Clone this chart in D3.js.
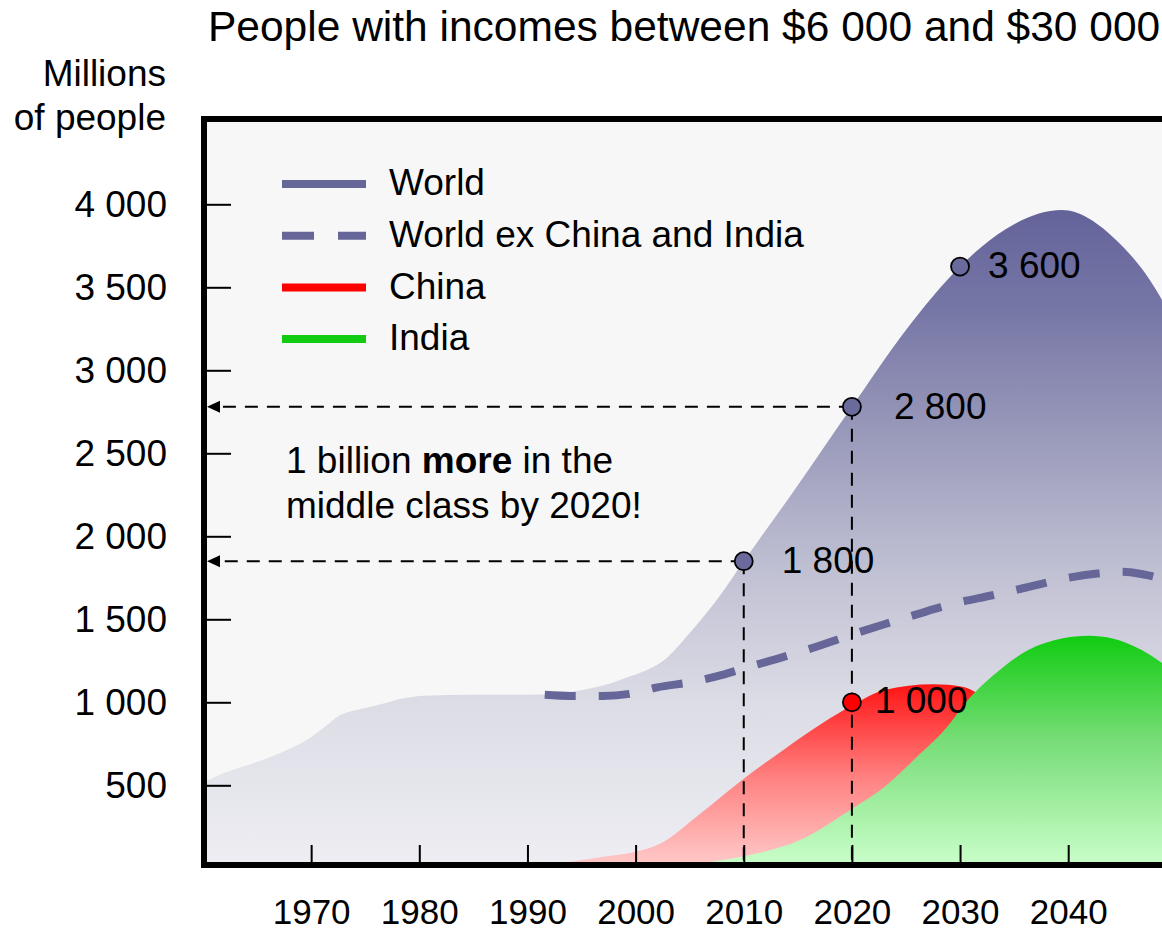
<!DOCTYPE html>
<html>
<head>
<meta charset="utf-8">
<script src="https://cdn.jsdelivr.net/npm/d3@7"></script>
<style>
  html, body { margin: 0; padding: 0; background: #ffffff; }
  svg { display: block; }
  text { font-family: "Liberation Sans", Arial, Helvetica, sans-serif; fill: #000; }
</style>
</head>
<body>
<svg id="chart" width="1162" height="931"></svg>
<script>
// ---------------- data ----------------
const xTickYears = [1970, 1980, 1990, 2000, 2010, 2020, 2030, 2040];
const yTickValues = [500, 1000, 1500, 2000, 2500, 3000, 3500, 4000];

// World (area), millions of people
const worldYears  = [1960, 1962, 1965, 1968, 1969.6, 1971.1, 1972.7, 1974.2, 1976, 1978.8, 1980.4, 1985, 1990, 1995, 1999, 2003, 2005, 2007.5, 2010, 2015, 2020, 2025, 2030, 2032, 2035, 2039.4, 2044.5, 2048.7, 2050];
const worldValues = [515, 575, 640, 720, 773, 843, 923, 953, 980, 1027, 1040, 1045, 1045, 1073, 1145, 1275, 1418, 1617, 1850, 2307, 2780, 3243, 3625, 3745, 3880, 3965, 3780, 3420, 3250];

// World ex China and India (dashed line)
const exYears  = [1991.6, 1994, 1997, 2000, 2002, 2005, 2008, 2010, 2013, 2016, 2020, 2023, 2026, 2029.5, 2033, 2036, 2040, 2043, 2045, 2047, 2050];
const exValues = [1045, 1038, 1038, 1057, 1090, 1120, 1165, 1205, 1260, 1320, 1408, 1470, 1530, 1596, 1645, 1690, 1750, 1778, 1787, 1770, 1720];

// China (area)
const chinaYears  = [1990, 1993, 1997, 2000, 2002.3, 2006, 2010, 2013.6, 2017.3, 2020, 2023, 2027.5, 2030.2, 2032, 2036, 2040, 2050];
const chinaValues = [0, 30, 70, 100, 150, 330, 540, 710, 875, 980, 1074, 1108, 1094, 1040, 850, 650, 300];

// India (area)
const indiaYears  = [2000, 2004, 2007, 2010.6, 2015.2, 2019.8, 2023, 2026, 2029.1, 2030.2, 2033.3, 2036.3, 2039.4, 2041.9, 2044.1, 2046.8, 2048.7, 2050];
const indiaValues = [0, 15, 40, 80, 170, 350, 490, 670, 875, 973, 1175, 1315, 1385, 1401, 1385, 1315, 1235, 1170];

// highlighted points
const worldPointYears  = [2010, 2020, 2030];
const worldPointValues = [1850, 2780, 3625];
const worldPointLabels = ["1 800", "2 800", "3 600"];
const chinaPointYears  = [2020];
const chinaPointValues = [1000];
const chinaPointLabels = ["1 000"];

const legendLabels = ["World", "World ex China and India", "China", "India"];
const titleText = "People with incomes between $6 000 and $30 000";
const yTitleLines = ["Millions", "of people"];

// ---------------- layout ----------------
const svg = d3.select("#chart");
const FONT = 37;
const plotLeft = 204, plotTop = 119, plotBottom = 865, plotRight = 1170;

const x = d3.scaleLinear().domain([1960, 2050]).range([203, 203 + 90 * 10.815]);
const y = d3.scaleLinear().domain([0, 4000]).range([868.3, 204.3]);

const fmt = d3.formatLocale({decimal: ".", thousands: " ", grouping: [3], currency: ["$", ""]}).format(",");

const zip = (a, b) => a.map((v, i) => [v, b[i]]);
const world = zip(worldYears, worldValues);
const exCI  = zip(exYears, exValues);
const china = zip(chinaYears, chinaValues);
const india = zip(indiaYears, indiaValues);

const defs = svg.append("defs");
defs.append("clipPath").attr("id", "plotClip")
  .append("rect").attr("x", plotLeft).attr("y", plotTop)
  .attr("width", plotRight - plotLeft).attr("height", plotBottom - plotTop);

const gWorld = defs.append("linearGradient").attr("id", "gWorld")
  .attr("gradientUnits", "userSpaceOnUse")
  .attr("x1", 0).attr("x2", 0).attr("y1", y(4000)).attr("y2", y(0));
[[0, "#62629a"], [0.15, "#7575a5"], [0.35, "#9a9abb"], [0.55, "#c0c0d3"], [0.75, "#dcdce6"], [1, "#eeeef3"]]
  .forEach(s => gWorld.append("stop").attr("offset", s[0]).attr("stop-color", s[1]));

const gChina = defs.append("linearGradient").attr("id", "gChina")
  .attr("x1", 0).attr("x2", 0).attr("y1", 0).attr("y2", 1);
[[0, "#ff1414"], [0.5, "#ff8080"], [1, "#ffcccc"]]
  .forEach(s => gChina.append("stop").attr("offset", s[0]).attr("stop-color", s[1]));

const gIndia = defs.append("linearGradient").attr("id", "gIndia")
  .attr("x1", 0).attr("x2", 0).attr("y1", 0).attr("y2", 1);
[[0, "#11cc11"], [0.45, "#77dd77"], [1, "#ccffcc"]]
  .forEach(s => gIndia.append("stop").attr("offset", s[0]).attr("stop-color", s[1]));

// background
svg.append("rect").attr("x", plotLeft).attr("y", plotTop)
  .attr("width", plotRight - plotLeft).attr("height", plotBottom - plotTop)
  .attr("fill", "#f7f7f7");

const plot = svg.append("g").attr("clip-path", "url(#plotClip)");

const area = d3.area().x(d => x(d[0])).y0(y(0)).y1(d => y(d[1])).curve(d3.curveMonotoneX);
const line = d3.line().x(d => x(d[0])).y(d => y(d[1])).curve(d3.curveMonotoneX);

plot.append("path").datum(world).attr("d", area).attr("fill", "url(#gWorld)");
plot.append("path").datum(china).attr("d", area).attr("fill", "url(#gChina)");
plot.append("path").datum(india).attr("d", area).attr("fill", "url(#gIndia)");
plot.append("path").datum(exCI).attr("d", line)
  .attr("fill", "none").attr("stroke", "#666699").attr("stroke-width", 8)
  .attr("stroke-dasharray", "31,23");

// guide lines
const guides = svg.append("g").attr("stroke", "#000").attr("stroke-width", 2)
  .attr("stroke-dasharray", "13,9").attr("fill", "none");
const arrowTip = 207;
[0, 1].forEach(i => {
  const px = x(worldPointYears[i]), py = y(worldPointValues[i]);
  guides.append("line").attr("x1", px).attr("x2", arrowTip + 12).attr("y1", py).attr("y2", py);
  guides.append("line").attr("x1", px).attr("x2", px).attr("y1", py).attr("y2", plotBottom - 2);
  svg.append("path")
    .attr("d", `M${arrowTip},${py} L${arrowTip + 13},${py - 6} L${arrowTip + 13},${py + 6} Z`)
    .attr("fill", "#000");
});

// point markers
const labelDx = [38, 42, 28];
worldPointYears.forEach((yr, i) => {
  const px = x(yr), py = y(worldPointValues[i]);
  svg.append("circle").attr("cx", px).attr("cy", py).attr("r", 9)
    .attr("fill", "#6a6a9c").attr("stroke", "#000").attr("stroke-width", 1.8);
  svg.append("text").attr("x", px + labelDx[i]).attr("y", py).attr("dy", "0.32em")
    .attr("font-size", FONT).text(worldPointLabels[i]);
});
chinaPointYears.forEach((yr, i) => {
  const px = x(yr), py = y(chinaPointValues[i]);
  svg.append("circle").attr("cx", px).attr("cy", py).attr("r", 9)
    .attr("fill", "#ff0000").attr("stroke", "#000").attr("stroke-width", 1.8);
  svg.append("text").attr("x", px + 23).attr("y", py).attr("dy", "0.3em")
    .attr("font-size", FONT).text(chinaPointLabels[i]);
});

// annotation
const ann = svg.append("text").attr("x", 286).attr("y", 473).attr("font-size", FONT);
ann.append("tspan").text("1 billion ");
ann.append("tspan").attr("font-weight", "bold").text("more");
ann.append("tspan").text(" in the");
svg.append("text").attr("x", 286).attr("y", 518).attr("font-size", FONT).text("middle class by 2020!");

// legend
const legendColors = ["#666699", "#666699", "#ff0000", "#11cc11"];
const legendDash = [null, "32,24", null, null];
const lg = svg.append("g");
legendLabels.forEach((lab, i) => {
  const ly = 184 + i * 51.7;
  lg.append("line").attr("x1", 282).attr("x2", 366).attr("y1", ly).attr("y2", ly)
    .attr("stroke", legendColors[i]).attr("stroke-width", 8)
    .attr("stroke-dasharray", legendDash[i]);
  lg.append("text").attr("x", 389).attr("y", ly).attr("dy", "0.3em")
    .attr("font-size", FONT).text(lab);
});

// axes
const yAxis = d3.axisLeft(y).tickValues(yTickValues).tickFormat(fmt)
  .tickSizeInner(-27).tickSizeOuter(0).tickPadding(37);
const gy = svg.append("g").attr("transform", `translate(${plotLeft},0)`).call(yAxis);
gy.select(".domain").remove();
gy.selectAll(".tick line").attr("stroke", "#000").attr("stroke-width", 2);
gy.selectAll(".tick text").attr("font-size", FONT).attr("font-family", null).attr("dy", "0.33em");

const xAxis = d3.axisBottom(x).tickValues(xTickYears).tickFormat(d3.format("d"))
  .tickSizeInner(-20).tickSizeOuter(0).tickPadding(34);
const gx = svg.append("g").attr("transform", `translate(0,${plotBottom})`).call(xAxis);
gx.select(".domain").remove();
gx.selectAll(".tick line").attr("stroke", "#000").attr("stroke-width", 2);
gx.selectAll(".tick text").attr("font-size", 35).attr("font-family", null)
  .attr("dy", null).attr("y", 58.5);

// frame
svg.append("path").attr("d", `M${plotLeft},${plotBottom} V${plotTop} H${plotRight}`)
  .attr("fill", "none").attr("stroke", "#000").attr("stroke-width", 6);
svg.append("path").attr("d", `M${plotLeft - 3},${plotBottom} H${plotRight}`)
  .attr("fill", "none").attr("stroke", "#000").attr("stroke-width", 6);

// titles
svg.append("text").attr("x", 208).attr("y", 41).attr("font-size", 42.5).text(titleText);
yTitleLines.forEach((t, i) => {
  svg.append("text").attr("x", 166).attr("y", 86 + i * 44).attr("text-anchor", "end")
    .attr("font-size", FONT).text(t);
});
</script>
</body>
</html>
